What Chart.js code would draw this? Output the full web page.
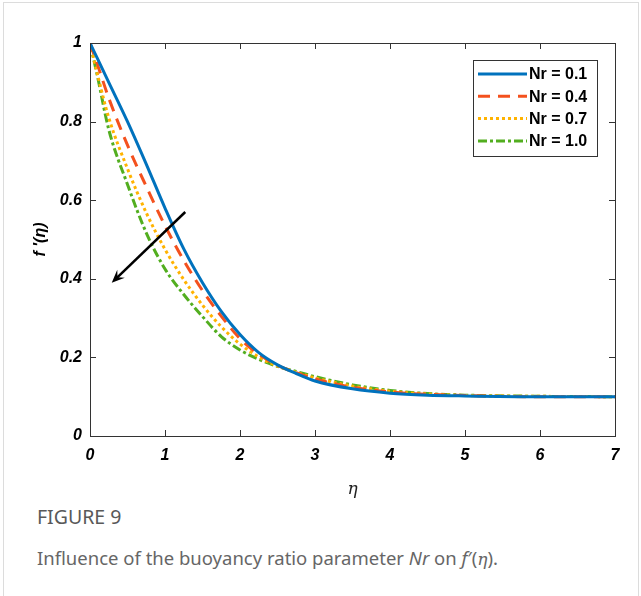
<!DOCTYPE html>
<html>
<head>
<meta charset="utf-8">
<script src="https://cdn.jsdelivr.net/npm/chart.js"></script>
<style>
  body { margin: 0; background: #fff; }
  .frame {
    position: absolute; left: 3px; top: 2px; width: 636px; height: 600px;
    border: 1px solid #dcdcdc; box-sizing: border-box;
  }
  #chart { position: absolute; left: 0; top: 0; }
  .cap-title {
    position: absolute; left: 37px; top: 503px; margin: 0;
    font-family: "Noto Sans", sans-serif; font-size: 19.5px; color: #595959;
  }
  .cap-text {
    position: absolute; left: 37px; top: 545px; margin: 0;
    font-family: "Noto Sans", sans-serif; font-size: 18.5px; color: #666;
  }
  .cap-text i.serif { font-family: "DejaVu Serif", serif; font-size: 17px; }
</style>
</head>
<body>
<div class="frame"></div>
<canvas id="chart" width="641" height="500"></canvas>
<div class="cap-title">FIGURE 9</div>
<div class="cap-text">Influence of the buoyancy ratio parameter <i>Nr</i> on <i>f</i>′(<i class="serif">η</i>).</div>
<script>
// eta values and f'(eta)
const eta = [0, 0.1, 0.25, 0.5, 0.75, 1, 1.25, 1.5, 1.75, 2, 2.25, 2.5, 2.75, 3, 3.5, 4, 4.5, 5, 6, 7];
const nr01 = [1, 0.96, 0.9, 0.8, 0.692, 0.58, 0.476, 0.39, 0.317, 0.258, 0.212, 0.181, 0.159, 0.14, 0.12, 0.109, 0.104, 0.102, 0.1, 0.1];
const nr04 = [1, 0.945, 0.86, 0.74, 0.635, 0.535, 0.447, 0.37, 0.305, 0.248, 0.208, 0.18, 0.161, 0.145, 0.124, 0.112, 0.106, 0.103, 0.1, 0.1];
const nr07 = [1, 0.92, 0.81, 0.68, 0.568, 0.475, 0.398, 0.333, 0.278, 0.234, 0.201, 0.178, 0.162, 0.148, 0.127, 0.114, 0.107, 0.103, 0.101, 0.1];
const nr10 = [1, 0.915, 0.78, 0.64, 0.517, 0.425, 0.36, 0.304, 0.253, 0.219, 0.195, 0.177, 0.164, 0.151, 0.13, 0.116, 0.108, 0.104, 0.101, 0.1];

const seriesLabels = ["Nr = 0.1", "Nr = 0.4", "Nr = 0.7", "Nr = 1.0"];
const xTicks = [0, 1, 2, 3, 4, 5, 6, 7];
const yTicks = [0, 0.2, 0.4, 0.6, 0.8, 1];
// arrow showing increasing Nr, in data units [eta, f']
const arrowFrom = [1.27, 0.57];
const arrowTo = [0.29, 0.39];

const colors = ["#0072BD", "#F4511E", "#FFB300", "#52AE1F"];
const dashes = [[], [12, 8], [3, 3], [9, 3, 3, 3]];

const toPoints = (ys) => ys.map((y, i) => ({ x: eta[i], y }));
const datasets = [nr01, nr04, nr07, nr10].map((ys, i) => ({
  label: seriesLabels[i],
  data: toPoints(ys),
  borderColor: colors[i],
  borderDash: dashes[i],
  borderWidth: 3,
  borderCapStyle: "butt",
  pointRadius: 0,
  cubicInterpolationMode: "monotone",
  fill: false,
}));

const tickFont = { family: "Liberation Sans, Arial, sans-serif", size: 16, weight: "bold", style: "italic" };

const framePlugin = {
  id: "frame",
  afterDraw(chart) {
    const { ctx, chartArea: a, scales } = chart;
    const xs = scales.x, ys = scales.y;
    ctx.save();
    // box + inward ticks
    ctx.strokeStyle = "#333";
    ctx.lineWidth = 1;
    ctx.strokeRect(a.left + 0.5, a.top + 0.5, a.right - a.left, a.bottom - a.top);
    ctx.beginPath();
    xTicks.forEach((v) => {
      const px = Math.round(xs.getPixelForValue(v)) + 0.5;
      ctx.moveTo(px, a.bottom); ctx.lineTo(px, a.bottom - 6);
      ctx.moveTo(px, a.top); ctx.lineTo(px, a.top + 6);
    });
    yTicks.forEach((v) => {
      const py = Math.round(ys.getPixelForValue(v)) + 0.5;
      ctx.moveTo(a.left, py); ctx.lineTo(a.left + 6, py);
      ctx.moveTo(a.right, py); ctx.lineTo(a.right - 6, py);
    });
    ctx.stroke();

    // arrow
    const x1 = xs.getPixelForValue(arrowFrom[0]), y1 = ys.getPixelForValue(arrowFrom[1]);
    const x2 = xs.getPixelForValue(arrowTo[0]), y2 = ys.getPixelForValue(arrowTo[1]);
    const ang = Math.atan2(y2 - y1, x2 - x1);
    ctx.strokeStyle = "#000";
    ctx.fillStyle = "#000";
    ctx.lineWidth = 2.5;
    ctx.beginPath();
    ctx.moveTo(x1, y1);
    ctx.lineTo(x2 - 6 * Math.cos(ang), y2 - 6 * Math.sin(ang));
    ctx.stroke();
    ctx.beginPath();
    ctx.moveTo(x2, y2);
    ctx.lineTo(x2 - 14 * Math.cos(ang - 0.4), y2 - 14 * Math.sin(ang - 0.4));
    ctx.lineTo(x2 - 8 * Math.cos(ang), y2 - 8 * Math.sin(ang));
    ctx.lineTo(x2 - 14 * Math.cos(ang + 0.4), y2 - 14 * Math.sin(ang + 0.4));
    ctx.closePath();
    ctx.fill();

    // legend box, top right inside plot
    const bx = a.right - 142, by = a.top + 17, bw = 124, bh = 96;
    ctx.fillStyle = "#fff";
    ctx.fillRect(bx, by, bw, bh);
    ctx.strokeStyle = "#333";
    ctx.lineWidth = 1;
    ctx.strokeRect(bx + 0.5, by + 0.5, bw, bh);
    ctx.font = "bold 16px Liberation Sans, Arial, sans-serif";
    ctx.textBaseline = "middle";
    chart.data.datasets.forEach((ds, i) => {
      const cy = by + 14 + i * 22.3;
      ctx.strokeStyle = ds.borderColor;
      ctx.lineWidth = 3;
      ctx.lineCap = "butt";
      ctx.setLineDash(ds.borderDash);
      ctx.beginPath();
      ctx.moveTo(bx + 5, cy);
      ctx.lineTo(bx + 54, cy);
      ctx.stroke();
      ctx.setLineDash([]);
      ctx.fillStyle = "#000";
      ctx.fillText(ds.label, bx + 56, cy + 1);
    });
    ctx.restore();
  },
};

new Chart(document.getElementById("chart"), {
  type: "line",
  data: { datasets },
  options: {
    responsive: false,
    animation: false,
    layout: { padding: { left: 0, top: 43, right: 26, bottom: 0 } },
    plugins: { legend: { display: false }, tooltip: { enabled: false } },
    scales: {
      x: {
        type: "linear",
        min: 0,
        max: 7,
        afterBuildTicks: (s) => { s.ticks = xTicks.map((v) => ({ value: v })); },
        afterFit: (s) => { s.height = 64; },
        grid: { display: false, drawTicks: false },
        border: { display: false },
        ticks: { color: "#000", font: tickFont, padding: 10, maxRotation: 0 },
        title: {
          display: true,
          text: "η",
          color: "#222",
          font: { family: "DejaVu Serif, serif", size: 17, style: "italic" },
          padding: { top: 0, bottom: 0 },
        },
      },
      y: {
        min: 0,
        max: 1,
        afterBuildTicks: (s) => { s.ticks = yTicks.map((v) => ({ value: v })); },
        afterFit: (s) => { s.width = 90; },
        grid: { display: false, drawTicks: false },
        border: { display: false },
        ticks: { color: "#000", font: tickFont, padding: 8, callback: (v) => String(v) },
        title: {
          display: true,
          text: "f '(η)",
          color: "#000",
          font: { family: "Liberation Sans, Arial, sans-serif", size: 16, weight: "bold", style: "italic" },
          padding: { top: 31, bottom: 0 },
        },
      },
    },
  },
  plugins: [framePlugin],
});
</script>
</body>
</html>
